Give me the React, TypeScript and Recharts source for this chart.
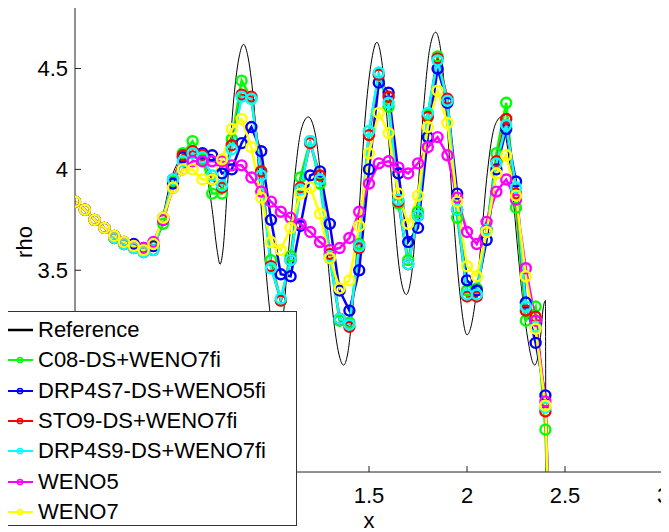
import React from "react";
import { Label, Line, LineChart, XAxis, YAxis } from "recharts";

// grid of the computed solutions (dx = 0.05), last point lies past the shock
const xs = [
  0, 0.05, 0.1, 0.15, 0.2, 0.25, 0.3, 0.35, 0.4, 0.45,
  0.5, 0.55, 0.6, 0.65, 0.7, 0.75, 0.8, 0.85, 0.9, 0.95,
  1, 1.05, 1.1, 1.15, 1.2, 1.25, 1.3, 1.35, 1.4, 1.45,
  1.5, 1.55, 1.6, 1.65, 1.7, 1.75, 1.8, 1.85, 1.9, 1.95,
  2, 2.05, 2.1, 2.15, 2.2, 2.25, 2.3, 2.35, 2.4, 2.45,
];

const c08 = [
  3.84, 3.8, 3.75, 3.71, 3.66, 3.63, 3.62, 3.6, 3.62, 3.73,
  3.94, 4.08, 4.14, 4.05, 3.88, 3.88, 4.15, 4.44, 4.35, 3.99,
  3.55, 3.35, 3.57, 3.96, 4.14, 3.93, 3.56, 3.25, 3.24, 3.63,
  4.19, 4.47, 4.31, 3.83, 3.55, 3.79, 4.27, 4.56, 4.34, 3.76,
  3.4, 3.41, 3.7, 4.08, 4.33, 3.81, 3.25, 3.32, 2.71, 1.1,
];

const drp4s7 = [
  3.84, 3.8, 3.75, 3.71, 3.67, 3.64, 3.63, 3.61, 3.62, 3.75,
  3.93, 4.06, 4.08, 4.08, 4.07, 3.98, 4.0, 4.13, 4.21, 4.09,
  3.75, 3.48, 3.47, 3.72, 3.97, 3.99, 3.73, 3.4, 3.3, 3.5,
  4.0, 4.43, 4.38, 3.98, 3.64, 3.71, 4.16, 4.5, 4.33, 3.88,
  3.45, 3.4, 3.65, 4.0, 4.2, 3.94, 3.34, 3.14, 2.88, 1.1,
];

const sto9 = [
  3.84, 3.8, 3.75, 3.71, 3.66, 3.63, 3.61, 3.59, 3.6, 3.76,
  3.95, 4.07, 4.09, 4.07, 3.95, 3.91, 4.12, 4.37, 4.36, 3.99,
  3.52, 3.35, 3.55, 3.91, 4.13, 3.97, 3.58, 3.26, 3.22, 3.61,
  4.17, 4.47, 4.36, 3.84, 3.53, 3.77, 4.26, 4.55, 4.35, 3.8,
  3.37, 3.37, 3.7, 4.04, 4.25, 3.88, 3.3, 3.27, 2.8, 1.1,
];

const drp4s9 = [
  3.84, 3.8, 3.75, 3.71, 3.66, 3.63, 3.61, 3.59, 3.6, 3.76,
  3.95, 4.04, 4.08, 4.06, 3.97, 3.92, 4.1, 4.36, 4.35, 3.97,
  3.51, 3.36, 3.55, 3.9, 4.14, 3.95, 3.57, 3.26, 3.23, 3.62,
  4.19, 4.48, 4.33, 3.85, 3.53, 3.77, 4.28, 4.54, 4.34, 3.8,
  3.38, 3.38, 3.7, 4.03, 4.22, 3.91, 3.32, 3.22, 2.82, 1.1,
];

const weno5 = [
  3.84, 3.8, 3.75, 3.71, 3.67, 3.64, 3.62, 3.61, 3.64, 3.75,
  3.91, 4.0, 4.04, 4.04, 4.04, 4.04, 4.02, 4.02, 3.96, 3.89,
  3.84, 3.79, 3.76, 3.73, 3.69, 3.64, 3.6, 3.61, 3.66, 3.79,
  3.93, 4.03, 4.04, 4.01, 3.98, 4.03, 4.11, 4.16, 4.07, 3.86,
  3.69, 3.63, 3.74, 3.89, 3.95, 3.85, 3.51, 3.25, 2.85, 1.1,
];

const weno7 = [
  3.84, 3.8, 3.75, 3.71, 3.67, 3.64, 3.62, 3.6, 3.63, 3.76,
  3.91, 4.0, 4.0, 3.95, 3.95, 4.05, 4.2, 4.25, 4.11, 3.86,
  3.64, 3.6, 3.71, 3.88, 3.91, 3.78, 3.56, 3.41, 3.45, 3.72,
  4.08, 4.28, 4.18, 3.88, 3.73, 3.87, 4.21, 4.39, 4.23, 3.84,
  3.52, 3.47, 3.69, 3.98, 4.07, 3.87, 3.47, 3.21, 2.83, 1.1,
];

// fine reference solution
const refX = [
  0, 0.1, 0.2, 0.3, 0.37, 0.41, 0.45, 0.49, 0.53, 0.58,
  0.63, 0.67, 0.7, 0.725, 0.74, 0.755, 0.78, 0.81, 0.84, 0.86,
  0.88, 0.91, 0.94, 0.97, 1.0, 1.03, 1.06, 1.09, 1.12, 1.155,
  1.19, 1.225, 1.26, 1.29, 1.32, 1.35, 1.37, 1.39, 1.42, 1.45,
  1.48, 1.51, 1.54, 1.57, 1.6, 1.63, 1.66, 1.69, 1.72, 1.75,
  1.78, 1.81, 1.84, 1.87, 1.9, 1.93, 1.96, 2.0, 2.04, 2.07,
  2.1, 2.13, 2.16, 2.175, 2.2, 2.23, 2.25, 2.27, 2.31, 2.345,
  2.37, 2.39, 2.4, 2.404,
];
const refRho = [
  3.84, 3.755, 3.67, 3.62, 3.6, 3.63, 3.78, 3.95, 4.04, 4.07,
  4.06, 3.98, 3.8, 3.6, 3.53, 3.6, 3.95, 4.35, 4.57, 4.62,
  4.57, 4.35, 3.95, 3.55, 3.25, 3.1, 3.25, 3.6, 3.95, 4.2,
  4.26, 4.18, 3.9, 3.55, 3.25, 3.07, 3.03, 3.08, 3.35, 3.8,
  4.25, 4.52, 4.63, 4.5, 4.15, 3.75, 3.47, 3.38, 3.5, 3.9,
  4.32, 4.6, 4.68, 4.56, 4.2, 3.78, 3.42, 3.18, 3.33, 3.62,
  3.95, 4.17, 4.25, 4.26, 4.15, 3.92, 3.7, 3.49, 3.16, 3.03,
  3.12, 3.32, 3.35, 1.0,
];

const xTicks = [0, 0.5, 1, 1.5, 2, 2.5, 3];
const yTicks = [2.5, 3, 3.5, 4, 4.5];
// tick labels that sit under the legend box in the original
const hiddenX = [0, 0.5, 1];
const hiddenY = [2.5, 3];

const series = [
  { key: "c08", name: "C08-DS+WENO7fi", color: "#00ff00", values: c08 },
  { key: "drp4s7", name: "DRP4S7-DS+WENO5fi", color: "#0000ff", values: drp4s7 },
  { key: "sto9", name: "STO9-DS+WENO7fi", color: "#ff0000", values: sto9 },
  { key: "drp4s9", name: "DRP4S9-DS+WENO7fi", color: "#00ffff", values: drp4s9 },
  { key: "weno5", name: "WENO5", color: "#ff00ff", values: weno5 },
  { key: "weno7", name: "WENO7", color: "#ffff00", values: weno7 },
];

const data = xs.map((x, i) => {
  const row: Record<string, number> = { x };
  series.forEach((s) => (row[s.key] = s.values[i]));
  return row;
});
const refData = refX.map((x, i) => ({ x, rho: refRho[i] }));

const FONT = "'Liberation Sans', Arial, Helvetica, sans-serif";
const AXIS = "#222";

function RhoLabel(props: any) {
  const vb = props.viewBox || { x: 0, y: 0, width: 0, height: 0 };
  const cx = vb.x + 32;
  const cy = vb.y + vb.height / 2 + 2;
  return (
    <text
      x={cx}
      y={cy}
      transform={`rotate(-90 ${cx} ${cy})`}
      textAnchor="middle"
      fontSize={22}
      fill="#000"
      fontFamily={FONT}
    >
      rho
    </text>
  );
}

function LegendBox() {
  const rows = [{ name: "Reference", color: "#000", marker: false }].concat(
    series.map((s) => ({ name: s.name, color: s.color, marker: true }))
  );
  return (
    <div
      style={{
        position: "absolute",
        left: 3,
        top: 311,
        width: 294,
        height: 215,
        border: "1px solid #333",
        background: "#fff",
        paddingTop: 3,
        boxSizing: "border-box",
        overflow: "hidden",
        fontFamily: FONT,
        fontSize: 22,
        color: "#000",
      }}
    >
      {rows.map((r) => (
        <div
          key={r.name}
          style={{ display: "flex", alignItems: "center", height: 30.3, whiteSpace: "nowrap" }}
        >
          <svg width={26} height={12} style={{ marginLeft: 3, marginRight: 5, flex: "none" }}>
            <line x1={0} y1={6} x2={26} y2={6} stroke={r.color} strokeWidth={r.marker ? 2 : 2.5} />
            {r.marker && <circle cx={13} cy={6} r={2.6} fill="none" stroke={r.color} strokeWidth={1.5} />}
          </svg>
          <span>{r.name}</span>
        </div>
      ))}
    </div>
  );
}

export default function App() {
  return (
    <div
      style={{
        position: "relative",
        width: 669,
        height: 540,
        margin: "-8px 0 -8px -8px",
        fontFamily: FONT,
      }}
    >
      <LineChart width={669} height={532} data={data} margin={{ top: 8, right: 6, bottom: 0, left: 0 }}>
        <XAxis
          dataKey="x"
          type="number"
          domain={[0, 3]}
          ticks={xTicks}
          allowDataOverflow
          height={60}
          stroke={AXIS}
          tickSize={-6}
          tickMargin={21}
          tickFormatter={(v: number) => (hiddenX.includes(v) ? "" : String(v))}
          tick={{ fontSize: 22, fill: "#000", fontFamily: FONT }}
        >
          <Label value="x" position="insideBottom" offset={4} fontSize={22} fill="#000" fontFamily={FONT} />
        </XAxis>
        <XAxis
          xAxisId="top"
          orientation="top"
          dataKey="x"
          type="number"
          domain={[0, 3]}
          ticks={xTicks}
          allowDataOverflow
          height={0}
          mirror
          stroke={AXIS}
          tickSize={6}
          tickFormatter={() => ""}
        />
        <YAxis
          type="number"
          domain={[2.5, 4.8]}
          ticks={yTicks}
          allowDataOverflow
          width={75}
          stroke={AXIS}
          tickSize={-6}
          tickMargin={13}
          tickFormatter={(v: number) => (hiddenY.includes(v) ? "" : String(v))}
          tick={{ fontSize: 22, fill: "#000", fontFamily: FONT }}
        >
          <Label content={(p: any) => <RhoLabel {...p} />} />
        </YAxis>
        <YAxis
          yAxisId="right"
          orientation="right"
          type="number"
          domain={[2.5, 4.8]}
          ticks={yTicks}
          allowDataOverflow
          width={0}
          mirror
          stroke={AXIS}
          tickSize={6}
          tickFormatter={() => ""}
        />
        <Line
          data={refData}
          dataKey="rho"
          name="Reference"
          type="monotone"
          stroke="#000"
          strokeWidth={1}
          dot={false}
          isAnimationActive={false}
        />
        {series.map((s) => (
          <Line
            key={s.key}
            dataKey={s.key}
            name={s.name}
            type="linear"
            stroke={s.color}
            strokeWidth={2.5}
            dot={{ r: 5, strokeWidth: 2.4, fill: "none", stroke: s.color }}
            isAnimationActive={false}
          />
        ))}
      </LineChart>
      <LegendBox />
    </div>
  );
}
